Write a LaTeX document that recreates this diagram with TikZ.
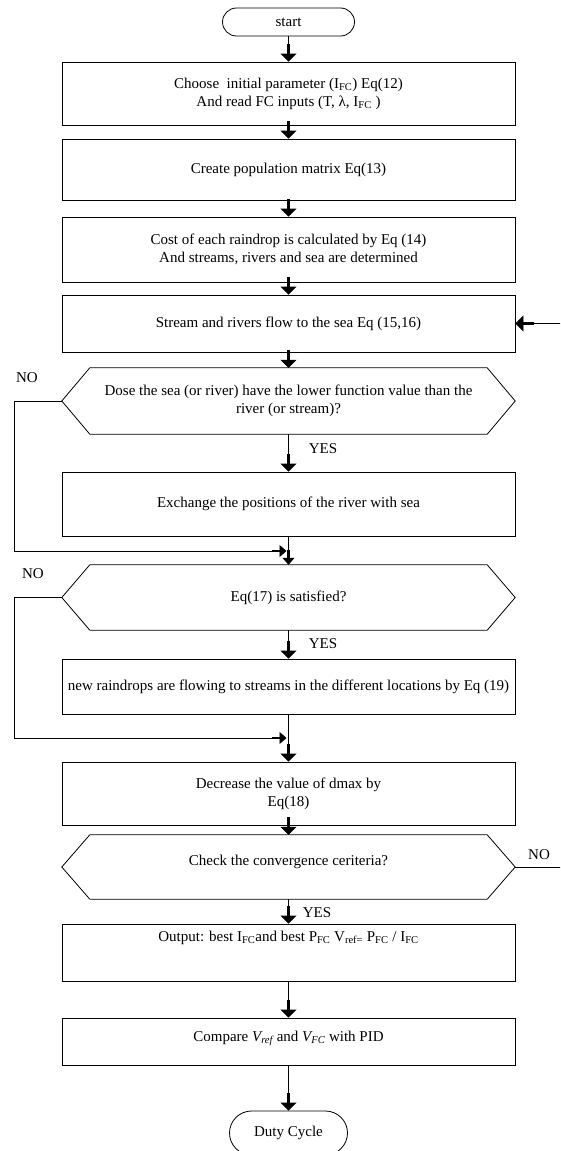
\documentclass[tikz,border=0pt]{standalone}
\usepackage{fontspec}
\setmainfont{Liberation Serif}
\usetikzlibrary{arrows.meta}
\newcommand{\drawhex}[1]{\draw[frame] (#1.west) -- ([xshift=28pt]#1.north west) -- ([xshift=-28pt]#1.north east) -- (#1.east) -- ([xshift=-28pt]#1.south east) -- ([xshift=28pt]#1.south west) -- cycle;}
\begin{document}
\begin{tikzpicture}[x=1pt,y=-1pt,
  every node/.style={font=\fontsize{15}{18}\selectfont},
  frame/.style={draw=black, line width=0.8pt},
  box/.style={frame, rectangle, minimum width=453pt, inner sep=2pt, align=center},
  hexnode/.style={rectangle, minimum width=453pt, inner sep=2pt, align=center},
  term/.style={frame, rectangle, rounded corners=#1, align=center, inner sep=0pt},
  lbl/.style={inner sep=0pt},
  line/.style={draw=black, line width=0.8pt},
  arr/.style={line, -{Rectangle[width=3pt,length=10pt]Triangle[width=16pt,length=8pt]}},
  sarr/.style={line, -{Rectangle[width=2.4pt,length=8pt]Triangle[width=12pt,length=7pt]}},
]
\useasboundingbox (0,0) rectangle (560,1151);
\fill[white] (0,0) rectangle (560,1151);
\clip (0,0) rectangle (560,1151);

% terminals
\node[term=14pt, minimum width=132pt, minimum height=28pt] (start) at (288.5,22) {start};
\node[term=22pt, minimum width=118pt, minimum height=44pt] (duty) at (288.5,1133) {Duty Cycle};

% process boxes
\node[box, minimum height=63pt] (b1) at (288.5,93.5)
  {Choose\ \ initial parameter (I\textsubscript{FC}) Eq(12)\\And read FC inputs (T, λ, I\textsubscript{FC} )};
\node[box, minimum height=61pt] (b2) at (288.5,169.5) {Create population matrix Eq(13)};
\node[box, minimum height=65pt] (b3) at (288.5,249.5)
  {Cost of each raindrop is calculated by Eq (14)\\And streams, rivers and sea are determined};
\node[box, minimum height=57pt] (b4) at (288.5,323.5) {Stream and rivers flow to the sea Eq (15,16)};

\node[hexnode, minimum height=66pt] (h1) at (288.5,401)
  {Dose the sea (or river) have the lower function value than the\\river (or stream)?};
\drawhex{h1}

\node[box, minimum height=64pt] (b5) at (288.5,504) {Exchange the positions of the river with sea};

\node[hexnode, minimum height=65pt] (h2) at (288.5,597.5) {Eq(17) is satisfied?};
\drawhex{h2}

\node[box, minimum height=55pt, inner sep=1pt] (b6) at (288.5,686.5)
  {new raindrops are flowing to streams in the different locations by Eq (19)};
\node[box, minimum height=63pt] (b7) at (288.5,793.5) {Decrease the value of dmax by\\Eq(18)};

\node[hexnode, minimum height=64pt, text height=11pt, text depth=15pt] (h3) at (288.5,867) {Check the convergence ceriteria?};
\drawhex{h3}

\node[box, minimum height=57pt, text height=11pt, text depth=34pt] (b8) at (288.5,952.5)
  {Output: best I\textsubscript{FC}and best P\textsubscript{FC} V\textsubscript{ref=} P\textsubscript{FC} / I\textsubscript{FC}};
\node[box, minimum height=47pt, text height=11pt, text depth=11pt] (b9) at (288.5,1041.5)
  {Compare \textit{V\textsubscript{ref}} and \textit{V\textsubscript{FC}} with PID};

% labels
\node[lbl] (no1) at (27,378) {NO};
\node[lbl] (no2) at (33,574) {NO};
\node[lbl] (no3) at (539,855) {NO};
\node[lbl] (yes1) at (323,449) {YES};
\node[lbl] (yes2) at (323,644) {YES};
\node[lbl] (yes3) at (317,913) {YES};

% helper coordinates
\coordinate (nl1) at (14,551);
\coordinate (j1) at (288.5,551);
\coordinate (nl2) at (14,738);
\coordinate (j2) at (288.5,738);
\coordinate (fb) at (561,867);

% connectors
\draw[arr] (start.south) -- (b1.north);
\draw[arr] (b1.south) -- (b2.north);
\draw[arr] (b2.south) -- (b3.north);
\draw[arr] (b3.south) -- (b4.north);
\draw[arr] (b4.south) -- (h1.north);
\draw[arr] (h1.south) -- (b5.north);
\draw[sarr] (b5.south) -- (h2.north);
\draw[sarr, shorten >=2pt] (h1.west) -| (nl1) -- (j1);
\draw[arr] (h2.south) -- (b6.north);
\draw[arr] (b6.south) -- (b7.north);
\draw[sarr, shorten >=2pt] (h2.west) -| (nl2) -- (j2);
\draw[arr] (b7.south) -- (h3.north);
\draw[arr] (h3.south) -- (b8.north);
\draw[arr] (b8.south) -- (b9.north);
\draw[arr] (b9.south) -- (duty.north);
\draw[arr] (h3.east) -- (fb) |- (b4.east);
\end{tikzpicture}
\end{document}
